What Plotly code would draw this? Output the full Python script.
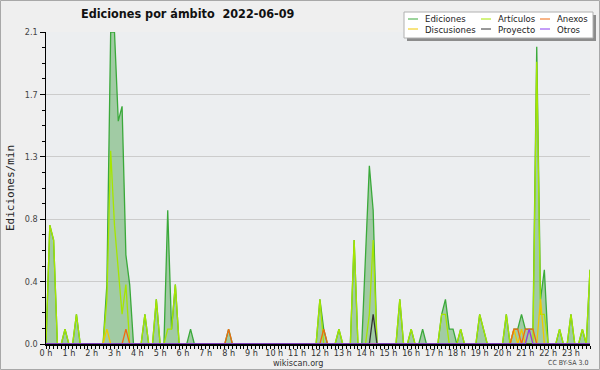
import plotly.graph_objects as go

# ---- data: 10-minute bins, edits per minute ----
hours = list(range(24))
hour_labels = [f"{h} h" for h in hours]

ediciones = [
    0, 0.8, 0.7, 0, 0, 0.1,
    0, 0, 0.2, 0, 0, 0,
    0, 0, 0, 0, 0.4, 2.1,
    2.1, 1.5, 1.6, 0.6, 0.4, 0,
    0, 0, 0.2, 0, 0, 0.3,
    0, 0, 0.9, 0.1, 0.4, 0,
    0, 0, 0.1, 0, 0, 0,
    0, 0, 0, 0, 0, 0,
    0.1, 0, 0, 0, 0, 0,
    0, 0, 0, 0, 0, 0,
    0, 0, 0, 0, 0, 0,
    0, 0, 0, 0, 0, 0,
    0.3, 0.1, 0, 0, 0, 0.1,
    0, 0, 0, 0.7, 0, 0,
    0.6, 1.2, 0.9, 0, 0, 0,
    0, 0, 0, 0.3, 0, 0,
    0.1, 0, 0, 0.1, 0, 0,
    0, 0, 0.2, 0.3, 0.1, 0.1,
    0, 0.1, 0, 0, 0, 0,
    0.2, 0.1, 0, 0, 0, 0,
    0, 0.2, 0, 0.1, 0.1, 0.2,
    0.1, 0.1, 0.1, 2.0, 0.3, 0.5,
    0, 0, 0, 0.1, 0, 0,
    0.2, 0, 0, 0.1, 0, 0.5,
]
articulos = [
    0, 0.8, 0.7, 0, 0, 0.1,
    0, 0, 0.2, 0, 0, 0,
    0, 0, 0, 0, 0.3, 1.3,
    0.8, 0.5, 0.2, 0.4, 0, 0,
    0, 0, 0.2, 0, 0, 0.3,
    0, 0, 0.1, 0.1, 0.4, 0,
    0, 0, 0, 0, 0, 0,
    0, 0, 0, 0, 0, 0,
    0, 0, 0, 0, 0, 0,
    0, 0, 0, 0, 0, 0,
    0, 0, 0, 0, 0, 0,
    0, 0, 0, 0, 0, 0,
    0.3, 0, 0, 0, 0, 0.1,
    0, 0, 0, 0.7, 0, 0,
    0, 0.2, 0.7, 0, 0, 0,
    0, 0, 0, 0.3, 0, 0,
    0.1, 0, 0, 0, 0, 0,
    0, 0, 0.2, 0.2, 0, 0,
    0, 0.1, 0, 0, 0, 0,
    0.2, 0.1, 0, 0, 0, 0,
    0, 0.2, 0, 0, 0, 0,
    0, 0, 0, 1.9, 0.2, 0.2,
    0, 0, 0, 0.1, 0, 0,
    0.2, 0, 0, 0.1, 0, 0.5,
]
discusiones_points = {16: 0.1, 123: 0.1, 125: 0.1, 127: 0.1, 130: 0.3}
anexos_points = {21: 0.1, 48: 0.1, 73: 0.1, 123: 0.1, 124: 0.1, 126: 0.1, 127: 0.1, 128: 0.1}
proyecto_points = {86: 0.2}
otros_points = {127: 0.1}

def expand(points):
    vals = [0] * 144
    for k, v in points.items():
        vals[k] = v
    return vals

discusiones = expand(discusiones_points)
anexos = expand(anexos_points)
proyecto = expand(proyecto_points)
otros = expand(otros_points)

times = [i / 6 for i in range(144)]

y_tickvals = [0, 0.42, 0.84, 1.26, 1.68, 2.1]
y_ticktext = ["0.0", "0.4", "0.8", "1.3", "1.7", "2.1"]

colors = {
    "Ediciones": "#3aa93a",
    "Artículos": "#a6e600",
    "Discusiones": "#f0c800",
    "Anexos": "#f06a10",
    "Proyecto": "#333333",
    "Otros": "#8a3cf0",
}

FONT = "DejaVu Sans Condensed, DejaVu Sans"
W, H = 600, 370
L, R, T, B = 46, 10, 32, 26
PW, PH = W - L - R, H - T - B

def px(x):
    return (x - L) / PW

def py(y):
    return (H - B - y) / PH

fig = go.Figure()
fig.add_trace(go.Scatter(x=times, y=ediciones, mode="lines", name="Ediciones",
                         line=dict(color=colors["Ediciones"], width=1.3),
                         fill="tozeroy", fillcolor="rgba(70,160,70,0.45)"))
for name, vals in [("Artículos", articulos), ("Discusiones", discusiones),
                   ("Anexos", anexos), ("Proyecto", proyecto), ("Otros", otros)]:
    fig.add_trace(go.Scatter(x=times, y=vals, mode="lines", name=name,
                             line=dict(color=colors[name], width=1.3)))

fig.update_layout(
    width=W, height=H,
    margin=dict(l=L, r=R, t=T, b=B, autoexpand=False),
    paper_bgcolor="#efefef",
    plot_bgcolor="#eceef0",
    showlegend=False,
    font=dict(family=FONT, size=9, color="#333333"),
)
fig.update_xaxes(
    range=[0, 143 / 6], tickvals=hours, ticktext=hour_labels, tickangle=0, automargin=False,
    ticks="outside", ticklen=3, tickwidth=1, tickcolor="black", ticklabelstandoff=-4,
    showline=True, linecolor="black", linewidth=2, showgrid=False, zeroline=False,
    minor=dict(dtick=1 / 6, tick0=0, ticks="outside", ticklen=3, tickcolor="black", showgrid=False),
    tickfont=dict(family=FONT, size=9, color="#333333"),
)
fig.update_yaxes(
    range=[0, 2.1], tickvals=y_tickvals, ticktext=y_ticktext, automargin=False,
    ticks="outside", ticklen=5, tickcolor="black",
    showline=True, linecolor="black", linewidth=1.5,
    gridcolor="#cccccc", gridwidth=1, zeroline=False,
    minor=dict(dtick=0.105, tick0=0, ticks="outside", ticklen=3, tickcolor="black", showgrid=False),
    tickfont=dict(family=FONT, size=9, color="#444444"),
    title=dict(text="Ediciones/min", font=dict(family="DejaVu Sans Mono", size=11, color="#222222"), standoff=8),
)

shapes = []
annotations = []
# outer border
shapes.append(dict(type="rect", xref="paper", yref="paper", x0=px(0.5), x1=px(W - 0.5), y0=py(0.5), y1=py(H - 0.5),
                   line=dict(color="#a8a8a8", width=1), fillcolor="rgba(0,0,0,0)", layer="below"))
# title
annotations.append(dict(xref="paper", yref="paper", x=px(188), y=py(14), text="<b>Ediciones por ámbito\u00a0\u00a02022-06-09</b>",
                        showarrow=False, xanchor="center", yanchor="middle",
                        font=dict(family=FONT, size=12.5, color="#111111")))
# legend box with shadow
shapes.append(dict(type="rect", xref="paper", yref="paper", x0=px(407), x1=px(596), y0=py(15), y1=py(41),
                   line=dict(width=0), fillcolor="#8c8c8c"))
shapes.append(dict(type="rect", xref="paper", yref="paper", x0=px(404), x1=px(593), y0=py(12), y1=py(38),
                   line=dict(color="#b0b0b0", width=1), fillcolor="#ffffff"))
legend_items = [("Ediciones", 408, 19), ("Artículos", 481, 19), ("Anexos", 540, 19),
                ("Discusiones", 408, 29), ("Proyecto", 481, 29), ("Otros", 540, 29)]
for name, lx, ly in legend_items:
    shapes.append(dict(type="line", xref="paper", yref="paper", x0=px(lx), x1=px(lx + 10), y0=py(ly), y1=py(ly),
                       line=dict(color=colors[name], width=1)))
    annotations.append(dict(xref="paper", yref="paper", x=px(lx + 15), y=py(ly), text=name, showarrow=False,
                            xanchor="left", yanchor="middle",
                            font=dict(family=FONT, size=9.5, color="#222222")))
# footer texts
annotations.append(dict(xref="paper", yref="paper", x=px(298), y=py(363), text="wikiscan.org", showarrow=False,
                        xanchor="center", yanchor="middle", font=dict(family=FONT, size=9, color="#333333")))
annotations.append(dict(xref="paper", yref="paper", x=px(590), y=py(363), text="CC BY-SA 3.0", showarrow=False,
                        xanchor="right", yanchor="middle", font=dict(family=FONT, size=7, color="#444444")))

fig.update_layout(shapes=shapes, annotations=annotations)
fig.write_html("out.html", config={"displayModeBar": False, "staticPlot": True},
               post_script="document.body.style.margin='0';document.body.style.padding='0';")
